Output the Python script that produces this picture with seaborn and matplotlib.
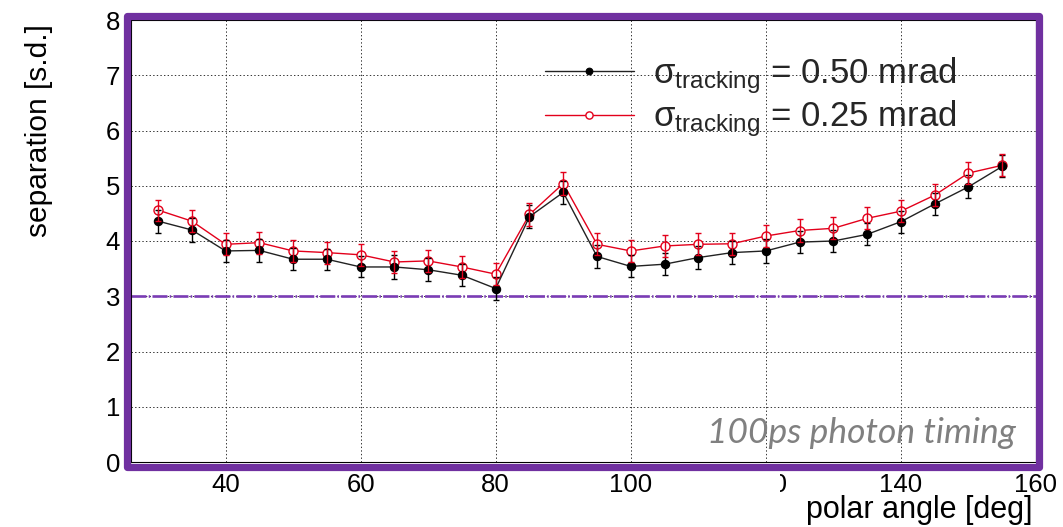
import matplotlib
matplotlib.use("Agg")
import matplotlib.pyplot as plt
from matplotlib.patches import Rectangle
from matplotlib.ticker import MultipleLocator
import seaborn as sns

# polar angle scan (deg) and separation power (s.d.) for two tracking resolutions
polar_angle = [30, 35, 40, 45, 50, 55, 60, 65, 70, 75, 80, 85, 90,
               95, 100, 105, 110, 115, 120, 125, 130, 135, 140, 145, 150, 155]
sep_050 = [4.36, 4.20, 3.82, 3.83, 3.67, 3.67, 3.53, 3.53, 3.48, 3.38, 3.14, 4.44, 4.88,
           3.72, 3.54, 3.58, 3.70, 3.79, 3.82, 3.98, 4.00, 4.12, 4.35, 4.67, 4.98, 5.35]
err_050 = [0.21, 0.22, 0.20, 0.21, 0.20, 0.19, 0.19, 0.21, 0.21, 0.20, 0.20, 0.21, 0.21,
           0.20, 0.20, 0.20, 0.21, 0.21, 0.21, 0.20, 0.20, 0.20, 0.20, 0.20, 0.21, 0.20]
sep_025 = [4.56, 4.36, 3.94, 3.97, 3.82, 3.79, 3.75, 3.62, 3.64, 3.53, 3.40, 4.48, 5.04,
           3.94, 3.82, 3.91, 3.94, 3.95, 4.09, 4.19, 4.23, 4.41, 4.54, 4.83, 5.23, 5.37]
err_025 = [0.19, 0.20, 0.20, 0.20, 0.20, 0.20, 0.20, 0.20, 0.20, 0.20, 0.20, 0.20, 0.21,
           0.20, 0.20, 0.20, 0.20, 0.20, 0.20, 0.20, 0.20, 0.20, 0.20, 0.20, 0.20, 0.20]
labels = ["σ$_{\\mathrm{tracking}}$ = 0.50 mrad",
          "σ$_{\\mathrm{tracking}}$ = 0.25 mrad"]
x_ticks = [40, 60, 80, 100, 120, 140, 160]
y_ticks = [0, 1, 2, 3, 4, 5, 6, 7, 8]
threshold = 3.0
note = "100ps photon timing"

sns.set_theme(style="white")
plt.rcParams["font.family"] = ["Liberation Sans", "DejaVu Sans"]
plt.rcParams["mathtext.fontset"] = "custom"
plt.rcParams["mathtext.rm"] = "Liberation Sans"
plt.rcParams["mathtext.it"] = "Liberation Sans:italic"
plt.rcParams["mathtext.bf"] = "Liberation Sans:bold"
plt.rcParams["lines.scale_dashes"] = False

W, H = 1063, 527
fig = plt.figure(figsize=(W / 100, H / 100), dpi=100)
ax = fig.add_axes([131 / W, 1 - 462 / H, (1036 - 131) / W, (462 - 20) / H])

purple = "#7030A0"
red = "#e3001b"

# red series (drawn underneath)
sns.lineplot(x=polar_angle, y=sep_025, ax=ax, color=red, lw=1.0,
             marker="o", markersize=6.5, markerfacecolor="white",
             markeredgecolor=red, markeredgewidth=1.0,
             errorbar=None, label=labels[1], zorder=3)
# black series
sns.lineplot(x=polar_angle, y=sep_050, ax=ax, color="#222222", lw=1.0,
             marker="o", markersize=6.0, markerfacecolor="black",
             markeredgecolor="black", markeredgewidth=0.8,
             errorbar=None, label=labels[0], zorder=4)
ax.errorbar(polar_angle, sep_050, yerr=err_050, fmt="none", ecolor="black",
            elinewidth=1.0, capsize=2, capthick=1.0, zorder=5)
ax.errorbar(polar_angle, sep_025, yerr=err_025, fmt="none", ecolor=red,
            elinewidth=1.0, capsize=2, capthick=1.0, zorder=6)

# 3 s.d. reference line
ax.axhline(threshold, color="#7a3cb4", lw=1.9, dashes=(10.8, 1.6, 1.1, 1.6), zorder=2)

ax.set_xlim(26, 160)
ax.set_ylim(0, 8)
ax.set_xticks(x_ticks)
ax.set_yticks(y_ticks)
ax.xaxis.set_minor_locator(MultipleLocator(5))
ax.yaxis.set_minor_locator(MultipleLocator(0.2))
ax.grid(True, which="major", color="#333333", lw=0.7, linestyle=(0, (1, 1.6)))
ax.tick_params(which="both", direction="in", top=False, right=False,
               color="black", width=0.8, labelsize=18.5, labelcolor="black")
ax.tick_params(axis="y", which="major", length=11, pad=8)
ax.tick_params(axis="y", which="minor", length=6)
ax.tick_params(axis="x", which="major", length=8, pad=8)
ax.tick_params(axis="x", which="minor", length=4)
for sp in ax.spines.values():
    sp.set_color("black")
    sp.set_linewidth(0.8)

ax.set_ylabel("separation [s.d.]", fontsize=21.5, color="black")
ax.yaxis.label.set_ha("right")
ax.yaxis.label.set_va("center")
ax.yaxis.set_label_coords((39 - 131) / 905, (462 - 24) / 442)
ax.set_xlabel("polar angle [deg]", fontsize=22, color="black")
ax.xaxis.label.set_ha("right")
ax.xaxis.label.set_va("center")
ax.xaxis.set_label_coords((1033 - 131) / 905, (462 - 510) / 442)

handles, labs = ax.get_legend_handles_labels()
order = [labs.index(labels[0]), labs.index(labels[1])]
ax.legend([handles[i] for i in order], [labs[i] for i in order],
          loc="upper left", bbox_to_anchor=((545 - 131) / 905, (462 - 55) / 442),
          frameon=False, fontsize=25, handlelength=2.55, handletextpad=0.55,
          labelspacing=0.08, borderpad=0, borderaxespad=0, markerscale=0.8)

ax.text((1016 - 131) / 905, (462 - 443) / 442, note, transform=ax.transAxes,
        ha="right", va="baseline", fontsize=25.5, fontstyle="italic",
        family="Lato", color="#808080", zorder=7)

# white mask over part of the axis labels
fig.add_artist(Rectangle((742 / W, 1 - 502 / H), 38 / W, 32 / H,
                         transform=fig.transFigure, facecolor="white",
                         edgecolor="none", zorder=20))

# purple highlight frame around the plot area
fig.add_artist(Rectangle((127 / W, 1 - 466.5 / H), (1039 - 127) / W, (466.5 - 15.5) / H,
                         transform=fig.transFigure, fill=False, edgecolor=purple,
                         linewidth=5.2, joinstyle="round", zorder=21))

fig.savefig("out.png", dpi=100)
